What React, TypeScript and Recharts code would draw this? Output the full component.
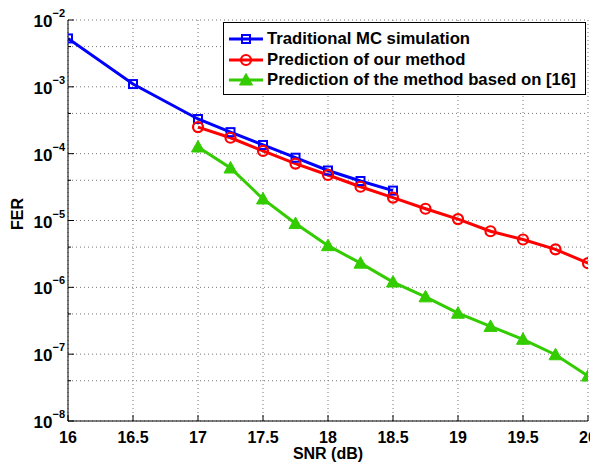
import React from "react";
import { LineChart, Line, XAxis, YAxis, CartesianGrid } from "recharts";

const blueSNR = [16, 16.5, 17, 17.25, 17.5, 17.75, 18, 18.25, 18.5];
const blueFER = [5.3e-3, 1.1e-3, 3.3e-4, 2.1e-4, 1.35e-4, 8.7e-5, 5.6e-5, 3.9e-5, 2.8e-5];

const predSNR = [17, 17.25, 17.5, 17.75, 18, 18.25, 18.5, 18.75, 19, 19.25, 19.5, 19.75, 20];
const redFER = [2.5e-4, 1.73e-4, 1.1e-4, 7.1e-5, 4.8e-5, 3.2e-5, 2.2e-5, 1.5e-5, 1.05e-5, 6.9e-6, 5.2e-6, 3.7e-6, 2.3e-6];
const greenFER = [1.26e-4, 6.1e-5, 2.1e-5, 9e-6, 4.2e-6, 2.3e-6, 1.2e-6, 7.2e-7, 4.1e-7, 2.6e-7, 1.67e-7, 9.8e-8, 4.7e-8];

const xTicks = [16, 16.5, 17, 17.5, 18, 18.5, 19, 19.5, 20];
const decades = [-8, -7, -6, -5, -4, -3, -2];
const mantissas = [1, 2, 3, 4, 5, 6, 7, 8, 9];

const seriesNames = [
  "Traditional MC simulation",
  "Prediction of our method",
  "Prediction of the method based on [16]",
];

const BLUE = "#0000ff";
const RED = "#ff0000";
const GREEN = "#33cc00";
const FONT = "'Liberation Sans', Arial, Helvetica, sans-serif";

const yTicks: number[] = [];
decades.forEach((e) => {
  mantissas.forEach((m) => {
    if (e === -2 && m > 1) return;
    yTicks.push(parseFloat((m * Math.pow(10, e)).toPrecision(3)));
  });
});

const blueData = blueSNR.map((s, i) => ({ snr: s, fer: blueFER[i] }));
const redData = predSNR.map((s, i) => ({ snr: s, fer: redFER[i] }));
const greenData = predSNR.map((s, i) => ({ snr: s, fer: greenFER[i] }));

const isMajor = (v: number) => {
  const e = Math.round(Math.log10(v));
  return Math.abs(v - Math.pow(10, e)) / Math.pow(10, e) < 1e-6;
};

const Square = ({ cx, cy, color }: any) => (
  <rect x={cx - 4} y={cy - 4} width={8} height={8} fill="none" stroke={color} strokeWidth={2} />
);
const Circle = ({ cx, cy, color }: any) => (
  <circle cx={cx} cy={cy} r={5} fill="none" stroke={color} strokeWidth={2.2} />
);
const Tri = ({ cx, cy, color }: any) => (
  <polygon
    points={`${cx},${cy - 6.5} ${cx - 6.5},${cy + 5} ${cx + 6.5},${cy + 5}`}
    fill={color}
    stroke={color}
    strokeWidth={1}
  />
);

const LeftYTick = ({ x, y, payload }: any) => {
  const v = payload.value;
  const major = isMajor(v);
  const e = Math.round(Math.log10(v));
  return (
    <g>
      <line x1={x} x2={x + (major ? 6 : 3)} y1={y} y2={y} stroke="#000" strokeWidth={1} />
      {major && (
        <text x={x - 3} y={y + 7} textAnchor="end" fontFamily={FONT} fontWeight="bold" fontSize={17} fill="#000">
          <tspan>10</tspan>
          <tspan dy={-10} fontSize={11}>{"\u2212" + Math.abs(e)}</tspan>
        </text>
      )}
    </g>
  );
};

const RightYTick = ({ x, y, payload }: any) => {
  const major = isMajor(payload.value);
  return <line x1={x} x2={x - (major ? 6 : 3)} y1={y} y2={y} stroke="#000" strokeWidth={1} />;
};

const BottomXTick = ({ x, y, payload }: any) => (
  <g>
    <line x1={x} x2={x} y1={y} y2={y - 6} stroke="#000" strokeWidth={1} />
    <text x={x} y={y + 22} textAnchor="middle" fontFamily={FONT} fontWeight="bold" fontSize={16} fill="#000">
      {payload.value}
    </text>
  </g>
);

const TopXTick = ({ x, y }: any) => (
  <line x1={x} x2={x} y1={y} y2={y + 6} stroke="#000" strokeWidth={1} />
);

const markers = [Square, Circle, Tri];
const colors = [BLUE, RED, GREEN];

const LegendBox = () => (
  <div
    style={{
      position: "absolute",
      left: 215,
      top: 14,
      width: 363,
      height: 73,
      boxSizing: "border-box",
      border: "1px solid #000",
      background: "#fff",
      paddingTop: 6,
      fontFamily: FONT,
      fontWeight: "bold",
      fontSize: 16.7,
    }}
  >
    {seriesNames.map((name, i) => {
      const M = markers[i];
      return (
        <div key={name} style={{ display: "flex", alignItems: "center", height: 20.5 }}>
          <svg width={43} height={20} style={{ flex: "none" }}>
            <line x1={5} x2={39} y1={10} y2={10} stroke={colors[i]} strokeWidth={2.8} />
            <M cx={22} cy={10} color={colors[i]} />
          </svg>
          <span style={{ whiteSpace: "nowrap", color: "#000" }}>{name}</span>
        </div>
      );
    })}
  </div>
);

export default function App() {
  return (
    <div style={{ position: "relative", width: 590, height: 458 }}>
      <LineChart width={590} height={458} margin={{ top: 12, right: 10, bottom: 0, left: 0 }}>
        <CartesianGrid stroke="#777" strokeDasharray="1 3" strokeWidth={1} />
        <XAxis
          dataKey="snr"
          type="number"
          domain={[16, 20]}
          ticks={xTicks}
          height={45}
          tickSize={0}
          tickMargin={0}
          tick={<BottomXTick />}
          axisLine={{ stroke: "#000", strokeWidth: 1 }}
          tickLine={false}
          allowDataOverflow
          label={{ value: "SNR (dB)", position: "insideBottom", offset: 7, fontFamily: FONT, fontWeight: "bold", fontSize: 16, fill: "#000" }}
        />
        <XAxis
          xAxisId="top"
          orientation="top"
          dataKey="snr"
          type="number"
          domain={[16, 20]}
          ticks={xTicks}
          height={0}
          tickSize={0}
          tickMargin={0}
          tick={<TopXTick />}
          axisLine={{ stroke: "#000", strokeWidth: 1 }}
          tickLine={false}
          allowDataOverflow
        />
        <YAxis
          scale="log"
          type="number"
          domain={[1e-8, 1e-2]}
          ticks={yTicks}
          width={60}
          tickSize={0}
          tickMargin={0}
          tick={<LeftYTick />}
          axisLine={{ stroke: "#000", strokeWidth: 1 }}
          tickLine={false}
          allowDataOverflow
          label={(p: any) => {
            const vb = p.viewBox || {};
            const cx = (vb.x ?? 0) + 15;
            const cy = 206;
            return (
              <text x={cx} y={cy} transform={`rotate(-90 ${cx} ${cy})`} textAnchor="middle" fontFamily={FONT} fontWeight="bold" fontSize={16} fill="#000">
                FER
              </text>
            );
          }}
        />
        <YAxis
          yAxisId="right"
          orientation="right"
          scale="log"
          type="number"
          domain={[1e-8, 1e-2]}
          ticks={yTicks}
          width={0}
          tickSize={0}
          tickMargin={0}
          tick={<RightYTick />}
          axisLine={{ stroke: "#000", strokeWidth: 1 }}
          tickLine={false}
          allowDataOverflow
        />
        <Line
          data={blueData}
          dataKey="fer"
          name={seriesNames[0]}
          stroke={BLUE}
          strokeWidth={3}
          isAnimationActive={false}
          dot={(p: any) => <Square key={`b${p.index}`} cx={p.cx} cy={p.cy} color={BLUE} />}
          activeDot={false}
        />
        <Line
          data={redData}
          dataKey="fer"
          name={seriesNames[1]}
          stroke={RED}
          strokeWidth={3}
          isAnimationActive={false}
          dot={(p: any) => <Circle key={`r${p.index}`} cx={p.cx} cy={p.cy} color={RED} />}
          activeDot={false}
        />
        <Line
          data={greenData}
          dataKey="fer"
          name={seriesNames[2]}
          stroke={GREEN}
          strokeWidth={3}
          isAnimationActive={false}
          dot={(p: any) => <Tri key={`g${p.index}`} cx={p.cx} cy={p.cy} color={GREEN} />}
          activeDot={false}
        />
      </LineChart>
      <LegendBox />
    </div>
  );
}
